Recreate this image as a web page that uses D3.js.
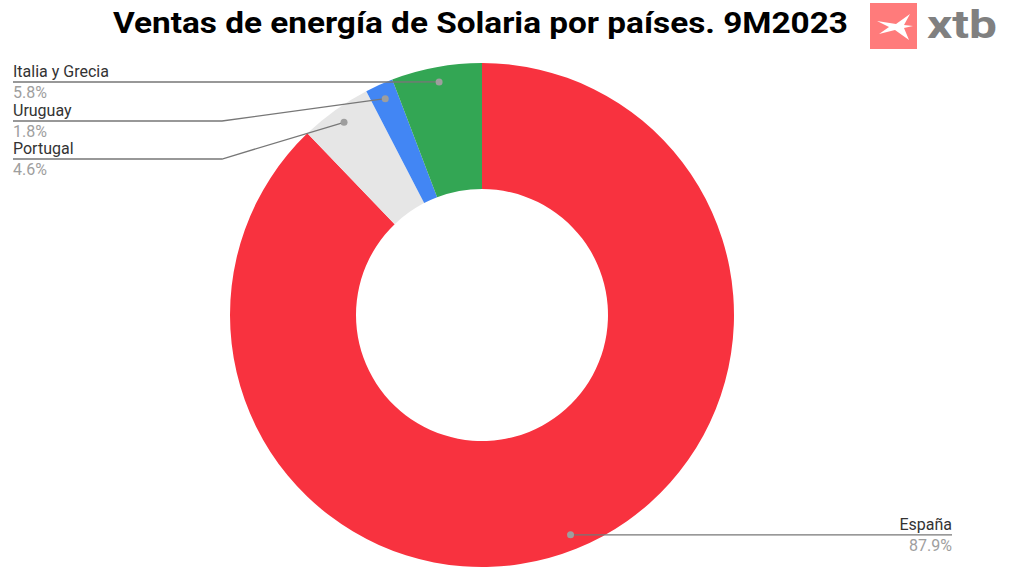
<!DOCTYPE html>
<meta charset="utf-8">
<style>
  body { margin: 0; background: #fff; }
  text { font-family: Roboto, "Noto Sans", sans-serif; }
</style>
<svg id="chart"></svg>

<script src="https://d3js.org/d3.v7.min.js"></script>
<script>

// data
var countries = ["España", "Portugal", "Uruguay", "Italia y Grecia"]
var shares = [87.9, 4.6, 1.8, 5.8]
var colors = ["#f8323f", "#e6e6e6", "#4286f4", "#33a654"]

var width = 1009
var height = 577
var cx = 482, cy = 315
var outerR = 252, innerR = 126, dotR = 237

var svg = d3.select("#chart")
    .attr("width", width)
    .attr("height", height)

// title
svg.append("text")
    .attr("x", 113)
    .attr("y", 33)
    .attr("font-size", 30)
    .attr("font-weight", "bold")
    .attr("fill", "#000")
    .attr("textLength", 735)
    .attr("lengthAdjust", "spacingAndGlyphs")
    .text("Ventas de energía de Solaria por países. 9M2023")

// xtb logo
var logo = svg.append("g")
logo.append("rect")
    .attr("x", 870).attr("y", 3)
    .attr("width", 47).attr("height", 46)
    .attr("fill", "#ff7b7b")
logo.append("path")
    .attr("d", "M877,21 L896,24 L910,14 L904,25 L913,26 L904,28 L909,40 L895,30 L879,34 L889,27 Z")
    .attr("fill", "#fff")
logo.append("text")
    .attr("x", 927).attr("y", 38)
    .attr("font-size", 38)
    .attr("font-weight", "bold")
    .attr("fill", "#808080")
    .attr("textLength", 70)
    .attr("lengthAdjust", "spacingAndGlyphs")
    .text("xtb")

// donut
var data = countries.map(function(c, i) { return { name: c, value: shares[i], color: colors[i] } })

var pie = d3.pie().sort(null).value(function(d) { return d.value })
var arcs = pie(data)

var arc = d3.arc().innerRadius(innerR).outerRadius(outerR)

var g = svg.append("g").attr("transform", "translate(" + cx + "," + cy + ")")

g.selectAll("path")
  .data(arcs)
  .enter().append("path")
    .attr("d", arc)
    .attr("fill", function(d) { return d.data.color })

// label positions (left column for small slices, right for España)
var labelPos = {
  "España": { x: 952, y: null, anchor: "end", bend: null },
  "Italia y Grecia": { x: 13, y: 82, anchor: "start", bend: 395 },
  "Uruguay": { x: 13, y: 121, anchor: "start", bend: 222 },
  "Portugal": { x: 13, y: 159, anchor: "start", bend: 222 }
}

arcs.forEach(function(d) {
  var a = (d.startAngle + d.endAngle) / 2
  var px = cx + dotR * Math.sin(a)
  var py = cy - dotR * Math.cos(a)
  var p = labelPos[d.data.name]
  var ly = p.y === null ? py : p.y
  var pts
  if (p.bend === null) {
    pts = [[px, py], [p.x, ly]]
  } else {
    pts = [[px, py], [p.bend, ly], [p.x, ly]]
  }
  svg.append("path")
      .attr("d", d3.line()(pts))
      .attr("fill", "none")
      .attr("stroke", "#777")
      .attr("stroke-width", 1.3)
  svg.append("circle")
      .attr("cx", px).attr("cy", py).attr("r", 3.5)
      .attr("fill", "#9e9e9e")
  svg.append("text")
      .attr("x", p.x).attr("y", ly - 5)
      .attr("text-anchor", p.anchor)
      .attr("font-size", 16)
      .attr("fill", "#333")
      .text(d.data.name)
  svg.append("text")
      .attr("x", p.x).attr("y", ly + 16)
      .attr("text-anchor", p.anchor)
      .attr("font-size", 16)
      .attr("fill", "#9e9e9e")
      .text(d.data.value.toFixed(1) + "%")
})

</script>
